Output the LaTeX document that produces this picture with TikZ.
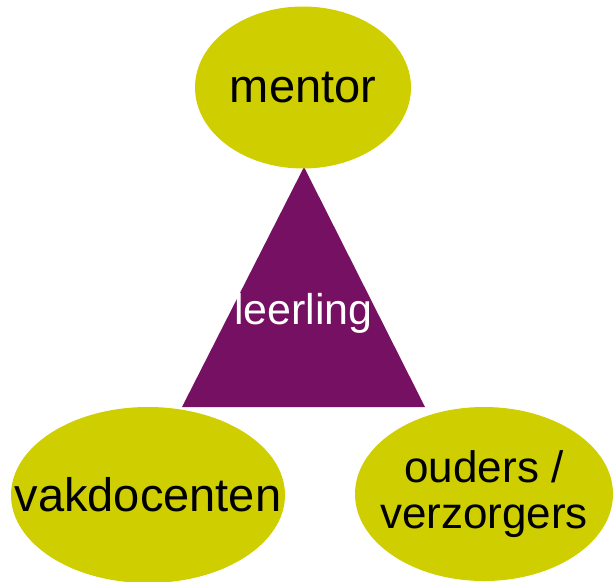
\documentclass[tikz,border=0pt]{standalone}
\usepackage{fontspec}
\setmainfont{Liberation Sans}
\usetikzlibrary{shapes.geometric}
\definecolor{olijf}{RGB}{206,206,0}
\definecolor{paars}{RGB}{118,16,98}
\tikzset{
x=1pt, y=-1pt, % one pixel of the sketch is one point
blob/.style={ellipse, fill=olijf, inner sep=0pt}, % sets the properties for each ellipse
blobtext/.style={font=\fontsize{47}{46}\selectfont, align=center}, % text inside the ellipses
}

\begin{document}
\begin{tikzpicture}
                \useasboundingbox (0,0) rectangle (613,581);

                \coordinate (top) at (304,167);
                \coordinate (bl) at (182,407);
                \coordinate (br) at (425,407);
                \fill[paars] (top) -- (br) -- (bl) -- cycle;
                \node[text=white, font=\fontsize{43}{46}\selectfont] (leerling) at (303.5,313) {leerling};

                \node[blob, minimum width=216, minimum height=162, label={[blobtext]center:mentor}] (mentor) at (303,87.5) {};
                \node[blob, minimum width=274, minimum height=176, label={[blobtext]center:vakdocenten}] (vak) at (148,495) {};
                \node[blob, minimum width=258, minimum height=174, label={[blobtext, font=\fontsize{44}{46}\selectfont]center:ouders /\\verzorgers}] (ouders) at (484,494) {};
            \end{tikzpicture}
\end{document}
